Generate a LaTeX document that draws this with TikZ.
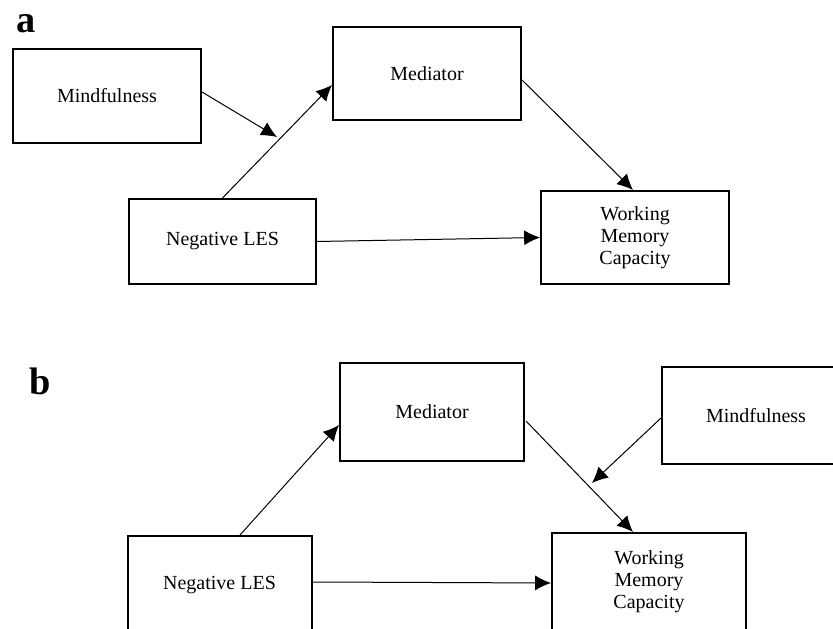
\documentclass[tikz,border=0pt]{standalone}
\usepackage{fontspec}
\setmainfont{Liberation Serif}
\usetikzlibrary{arrows.meta,calc}
\tikzset{
  varbox/.style={draw, line width=1.2pt, align=center, inner sep=0pt,
    font=\fontsize{12}{13.2}\selectfont},
  effect/.style={-{Latex[length=9.5pt,width=9pt]}, line width=0.6pt},
  panel/.style={anchor=base west, inner sep=0pt,
    font=\fontsize{23}{28}\selectfont\bfseries}
}
\begin{document}
\begin{tikzpicture}[x=0.6pt, y=-0.6pt]
  \useasboundingbox (0,0) rectangle (833,629);
  \clip (0,0) rectangle (833,629);
  % panel a
  \node[panel] (labA) at (16,33) {a};
  \node[varbox, minimum width=112.8pt, minimum height=56.4pt] (mindA) at (107,96) {Mindfulness};
  \node[varbox, minimum width=112.8pt, minimum height=55.8pt] (medA) at (427,73.5) {Mediator};
  \node[varbox, minimum width=112.2pt, minimum height=51pt] (negA) at (222.5,241.5) {Negative LES};
  \node[varbox, minimum width=112.8pt, minimum height=55.8pt] (wmcA) at (635,237.5) {Working\\Memory\\Capacity};
  \coordinate (modA) at (277,137);
  \draw[effect] ($(mindA.east)+(0,-4)$) -- (modA);
  \draw[effect] (negA.north) -- ($(medA.west)+(0,11.5)$);
  \draw[effect] ($(medA.east)+(0,6.5)$) -- ($(wmcA.north)+(-2,0)$);
  \draw[effect] (negA.east) -- (wmcA.west);
  % panel b
  \node[panel] (labB) at (29,395) {b};
  \node[varbox, minimum width=110.4pt, minimum height=58.8pt] (medB) at (432,412) {Mediator};
  \node[varbox, minimum width=112.8pt, minimum height=58.2pt] (mindB) at (756,415.5) {Mindfulness};
  \node[varbox, minimum width=110.4pt, minimum height=58.8pt] (negB) at (219.5,585) {Negative LES};
  \node[varbox, minimum width=116.4pt, minimum height=58.8pt] (wmcB) at (649,582) {Working\\Memory\\Capacity};
  \coordinate (modB) at (592,483);
  \draw[effect] ($(negB.north)+(20.5,0)$) -- ($(medB.west)+(0,13)$);
  \draw[effect] ($(medB.east)+(1,9)$) -- ($(wmcB.north)+(-16,0)$);
  \draw[effect] ($(mindB.west)+(0,2.5)$) -- (modB);
  \draw[effect] ($(negB.east)+(0,-3)$) -- ($(wmcB.west)+(0,1)$);
\end{tikzpicture}
\end{document}
